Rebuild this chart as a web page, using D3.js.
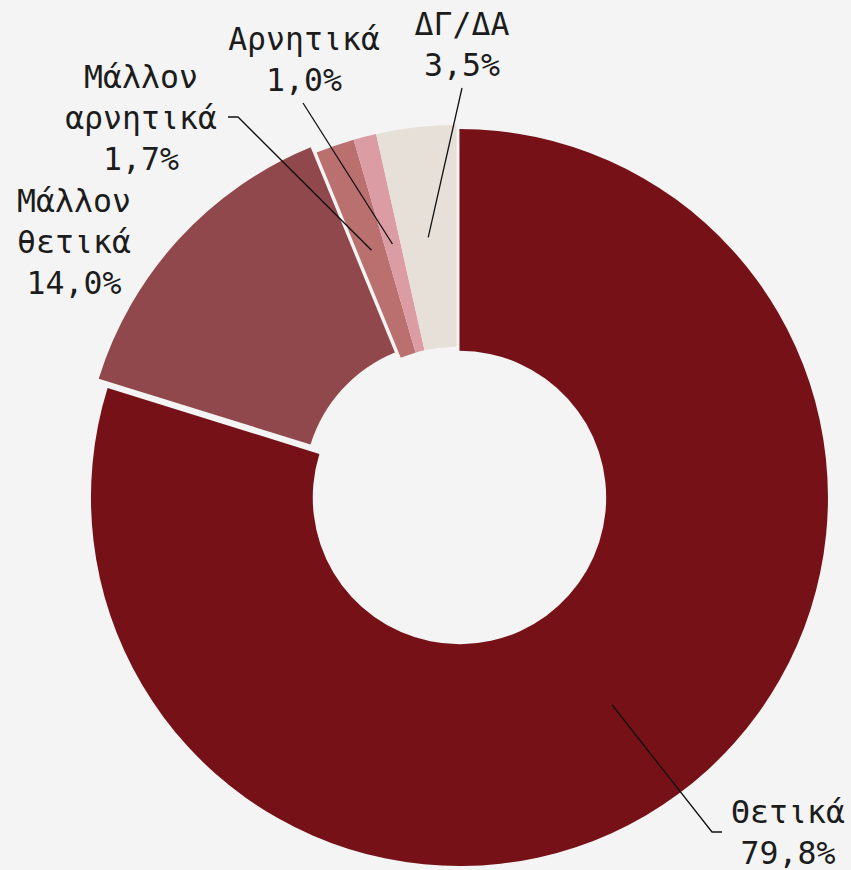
<!DOCTYPE html>
<html>
<head>
<meta charset="utf-8">
<script src="https://cdn.jsdelivr.net/npm/d3@7"></script>
<style>
  html, body { margin: 0; padding: 0; background: #f4f4f4; }
  svg { display: block; }
  text { font-family: "DejaVu Sans Mono", monospace; font-size: 31.5px; fill: #1c1c1c; }
</style>
</head>
<body>
<svg id="chart" width="851" height="870"></svg>
<script>
// Responses (percent), clockwise from 12 o'clock
const categories = ["Θετικά", "Μάλλον θετικά", "Μάλλον αρνητικά", "Αρνητικά", "ΔΓ/ΔΑ"];
const values = [79.8, 14.0, 1.7, 1.0, 3.5];
const colors = ["#761217", "#91484c", "#b9706f", "#dc9ca4", "#e6e0d8"];
// Label text lines per category
const labelLines = [
  ["Θετικά", "79,8%"],
  ["Μάλλον", "θετικά", "14,0%"],
  ["Μάλλον", "αρνητικά", "1,7%"],
  ["Αρνητικά", "1,0%"],
  ["ΔΓ/ΔΑ", "3,5%"]
];

// Layout
const cx = 456.5, cy = 493.5;
const outerR = 368.5, innerR = 146.7;
const explode = [5, 8, 0, 0, 0];
const lineH = 41;
// label anchor (x centre, first baseline) and leader-line elbow points
const labelPos = [
  { x: 788, y: 823, leader: [[712, 832], [722, 832]] },
  { x: 74, y: 212, leader: null },
  { x: 141, y: 88, leader: [[238, 117], [228, 117]] },
  { x: 304, y: 50, leader: [[303, 103]] },
  { x: 462, y: 35, leader: [[462, 88]] }
];

const svg = d3.select("#chart");
svg.append("rect").attr("width", 851).attr("height", 870).attr("fill", "#f4f4f4");

const data = categories.map((c, i) => ({ name: c, value: values[i], i }));
const pie = d3.pie().sort(null).value(d => d.value).startAngle(0).endAngle(2 * Math.PI);
const arc = d3.arc().innerRadius(innerR).outerRadius(outerR);
const arcs = pie(data);

const g = svg.append("g").attr("transform", `translate(${cx},${cy})`);

g.selectAll("path.slice")
  .data(arcs)
  .join("path")
  .attr("class", "slice")
  .attr("d", arc)
  .attr("fill", d => colors[d.data.i])
  .attr("transform", d => {
    const mid = (d.startAngle + d.endAngle) / 2;
    const k = explode[d.data.i];
    return `translate(${k * Math.sin(mid)},${-k * Math.cos(mid)})`;
  });

// leader lines from slice centroid to label
const lineGen = d3.line();
arcs.forEach(d => {
  const lp = labelPos[d.data.i];
  if (!lp.leader) return;
  const mid = (d.startAngle + d.endAngle) / 2;
  const k = explode[d.data.i];
  const [x0, y0] = arc.centroid(d);
  const start = [cx + x0 + k * Math.sin(mid), cy + y0 - k * Math.cos(mid)];
  svg.append("path")
    .attr("d", lineGen([start, ...lp.leader]))
    .attr("fill", "none")
    .attr("stroke", "#111")
    .attr("stroke-width", 1.3);
});

// labels
arcs.forEach(d => {
  const lp = labelPos[d.data.i];
  const t = svg.append("text").attr("text-anchor", "middle");
  labelLines[d.data.i].forEach((s, j) => {
    t.append("tspan").attr("x", lp.x).attr("y", lp.y + j * lineH).text(s);
  });
});
</script>
</body>
</html>
